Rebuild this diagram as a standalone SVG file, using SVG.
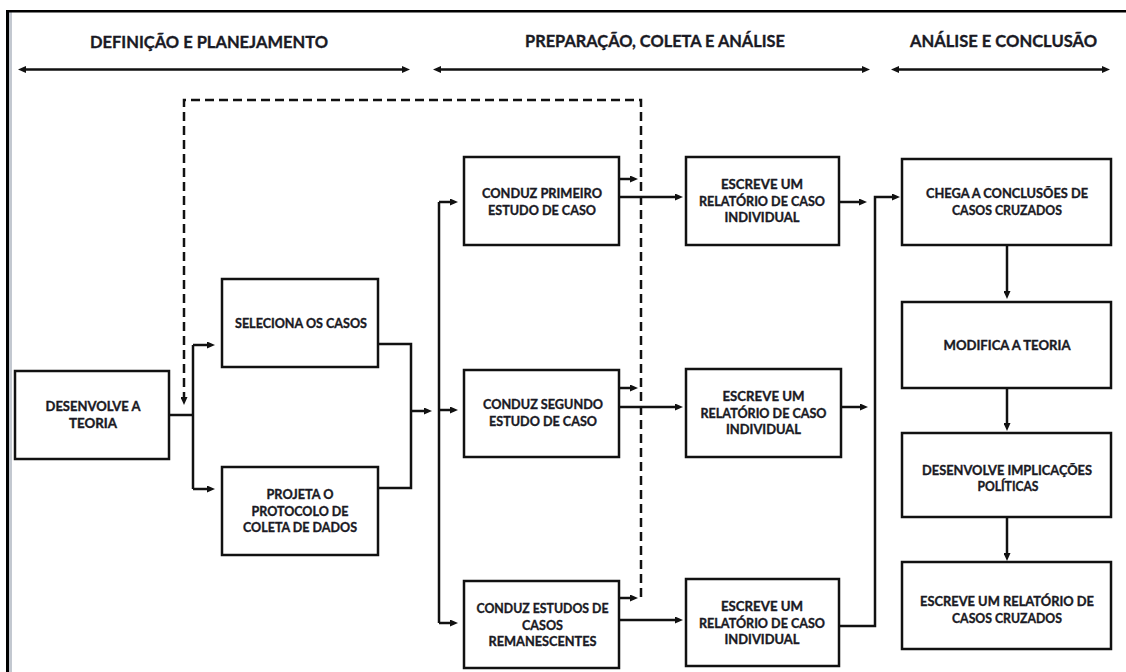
<svg xmlns="http://www.w3.org/2000/svg" width="1126" height="672" viewBox="0 0 1126 672">
<style>
.box{fill:#fff;stroke:#111;stroke-width:2.5}
.t{font-family:Lato,"Liberation Sans",Arial,sans-serif;font-weight:700;font-size:13px;fill:#1a1a24;stroke:#1a1a24;stroke-width:0.35;text-anchor:middle}
.h{font-family:Lato,"Liberation Sans",Arial,sans-serif;font-weight:700;font-size:17px;fill:#1a1a24;stroke:#1a1a24;stroke-width:0.35;text-anchor:middle}
.c{fill:none;stroke:#111;stroke-width:2.5}
.d{fill:none;stroke:#111;stroke-width:2.5;stroke-dasharray:9 5}
</style>
<defs>
<marker id="a" viewBox="0 0 8 7" markerUnits="userSpaceOnUse" markerWidth="8" markerHeight="7" refX="1" refY="3.5" orient="auto-start-reverse">
<path d="M0,0 L8,3.5 L0,7 z" fill="#111"/>
</marker>
</defs>
<rect width="1126" height="672" fill="#fff"/>
<g id="frame">
<rect x="9" y="12" width="3" height="660" fill="#c3c8d0"/>
<line x1="7.5" y1="10" x2="7.5" y2="672" stroke="#000" stroke-width="3"/>
<line x1="6" y1="11.2" x2="1126" y2="11.2" stroke="#000" stroke-width="2.5"/>
</g>
<g id="headers">
<text class="h" x="209" y="47.5" textLength="238" lengthAdjust="spacingAndGlyphs">DEFINIÇÃO E PLANEJAMENTO</text>
<text class="h" x="655" y="47" textLength="260" lengthAdjust="spacingAndGlyphs">PREPARAÇÃO, COLETA E ANÁLISE</text>
<text class="h" x="1003.5" y="47" textLength="187" lengthAdjust="spacingAndGlyphs">ANÁLISE E CONCLUSÃO</text>
<line class="c" x1="25" y1="69.5" x2="403" y2="69.5" marker-start="url(#a)" marker-end="url(#a)"/>
<line class="c" x1="440" y1="69.5" x2="863" y2="69.5" marker-start="url(#a)" marker-end="url(#a)"/>
<line class="c" x1="898" y1="69.5" x2="1103" y2="69.5" marker-start="url(#a)" marker-end="url(#a)"/>
</g>
<g id="connectors">
<path class="d" d="M641,597 V100 H184 V398" marker-end="url(#a)"/>
<path class="c" d="M169,415 H193"/>
<path class="c" d="M193,345 V489"/>
<line class="c" x1="193" y1="345" x2="208" y2="345" marker-end="url(#a)"/>
<line class="c" x1="193" y1="489" x2="208" y2="489" marker-end="url(#a)"/>
<path class="c" d="M378,344 H411 V488 H378"/>
<line class="c" x1="411" y1="411" x2="425" y2="411" marker-end="url(#a)"/>
<path class="c" d="M439,202 V623"/>
<line class="c" x1="439" y1="202" x2="451" y2="202" marker-end="url(#a)"/>
<line class="c" x1="439" y1="410" x2="451" y2="410" marker-end="url(#a)"/>
<line class="c" x1="439" y1="623" x2="451" y2="623" marker-end="url(#a)"/>
<line class="c" x1="619" y1="179" x2="631" y2="179" marker-end="url(#a)"/>
<line class="c" x1="619" y1="388" x2="631" y2="388" marker-end="url(#a)"/>
<line class="c" x1="619" y1="598" x2="631" y2="598" marker-end="url(#a)"/>
<line class="c" x1="619" y1="197" x2="676" y2="197" marker-end="url(#a)"/>
<line class="c" x1="619" y1="407" x2="676" y2="407" marker-end="url(#a)"/>
<line class="c" x1="619" y1="620" x2="676" y2="620" marker-end="url(#a)"/>
<line class="c" x1="839" y1="202" x2="860" y2="202" marker-end="url(#a)"/>
<line class="c" x1="841" y1="407" x2="861" y2="407" marker-end="url(#a)"/>
<path class="c" d="M839,626 H875 V197 H893" marker-end="url(#a)"/>
<line class="c" x1="1007" y1="245" x2="1007" y2="292" marker-end="url(#a)"/>
<line class="c" x1="1007" y1="388" x2="1007" y2="424" marker-end="url(#a)"/>
<line class="c" x1="1007" y1="517" x2="1007" y2="554" marker-end="url(#a)"/>
</g>
<g id="n1">
<rect class="box" x="15" y="371" width="154" height="88"/>
<text class="t" x="93" y="411" textLength="95" lengthAdjust="spacingAndGlyphs">DESENVOLVE A</text>
<text class="t" x="93" y="428" textLength="48" lengthAdjust="spacingAndGlyphs">TEORIA</text>
</g>
<g id="n2">
<rect class="box" x="222" y="279" width="156" height="88"/>
<text class="t" x="301" y="328" textLength="132" lengthAdjust="spacingAndGlyphs">SELECIONA OS CASOS</text>
</g>
<g id="n3">
<rect class="box" x="222" y="467" width="156" height="88"/>
<text class="t" x="300" y="499" textLength="67" lengthAdjust="spacingAndGlyphs">PROJETA O</text>
<text class="t" x="300" y="516" textLength="97" lengthAdjust="spacingAndGlyphs">PROTOCOLO DE</text>
<text class="t" x="300" y="532" textLength="114" lengthAdjust="spacingAndGlyphs">COLETA DE DADOS</text>
</g>
<g id="n4">
<rect class="box" x="464" y="157" width="155" height="88"/>
<text class="t" x="542" y="198" textLength="120" lengthAdjust="spacingAndGlyphs">CONDUZ PRIMEIRO</text>
<text class="t" x="542" y="215" textLength="108" lengthAdjust="spacingAndGlyphs">ESTUDO DE CASO</text>
</g>
<g id="n5">
<rect class="box" x="464" y="370" width="155" height="87"/>
<text class="t" x="543" y="409" textLength="120" lengthAdjust="spacingAndGlyphs">CONDUZ SEGUNDO</text>
<text class="t" x="543" y="426" textLength="108" lengthAdjust="spacingAndGlyphs">ESTUDO DE CASO</text>
</g>
<g id="n6">
<rect class="box" x="464" y="581" width="155" height="87"/>
<text class="t" x="542.5" y="613" textLength="132" lengthAdjust="spacingAndGlyphs">CONDUZ ESTUDOS DE</text>
<text class="t" x="542.5" y="630" textLength="41" lengthAdjust="spacingAndGlyphs">CASOS</text>
<text class="t" x="542.5" y="646" textLength="108" lengthAdjust="spacingAndGlyphs">REMANESCENTES</text>
</g>
<g id="n7">
<rect class="box" x="686" y="157" width="153" height="88"/>
<text class="t" x="762" y="189" textLength="82" lengthAdjust="spacingAndGlyphs">ESCREVE UM</text>
<text class="t" x="762" y="206" textLength="126" lengthAdjust="spacingAndGlyphs">RELATÓRIO DE CASO</text>
<text class="t" x="762" y="222" textLength="75" lengthAdjust="spacingAndGlyphs">INDIVIDUAL</text>
</g>
<g id="n8">
<rect class="box" x="686" y="369" width="155" height="88"/>
<text class="t" x="763.5" y="401" textLength="82" lengthAdjust="spacingAndGlyphs">ESCREVE UM</text>
<text class="t" x="763.5" y="418" textLength="126" lengthAdjust="spacingAndGlyphs">RELATÓRIO DE CASO</text>
<text class="t" x="763.5" y="434" textLength="75" lengthAdjust="spacingAndGlyphs">INDIVIDUAL</text>
</g>
<g id="n9">
<rect class="box" x="686" y="579" width="153" height="87"/>
<text class="t" x="762" y="611" textLength="82" lengthAdjust="spacingAndGlyphs">ESCREVE UM</text>
<text class="t" x="762" y="628" textLength="126" lengthAdjust="spacingAndGlyphs">RELATÓRIO DE CASO</text>
<text class="t" x="762" y="644" textLength="75" lengthAdjust="spacingAndGlyphs">INDIVIDUAL</text>
</g>
<g id="n10">
<rect class="box" x="902" y="159" width="209" height="86"/>
<text class="t" x="1007" y="198" textLength="162" lengthAdjust="spacingAndGlyphs">CHEGA A CONCLUSÕES DE</text>
<text class="t" x="1007" y="215" textLength="110" lengthAdjust="spacingAndGlyphs">CASOS CRUZADOS</text>
</g>
<g id="n11">
<rect class="box" x="902" y="302" width="209" height="86"/>
<text class="t" x="1007" y="349.5" textLength="127" lengthAdjust="spacingAndGlyphs">MODIFICA A TEORIA</text>
</g>
<g id="n12">
<rect class="box" x="902" y="433" width="209" height="84"/>
<text class="t" x="1007" y="474.5" textLength="170" lengthAdjust="spacingAndGlyphs">DESENVOLVE IMPLICAÇÕES</text>
<text class="t" x="1008" y="491" textLength="61" lengthAdjust="spacingAndGlyphs">POLÍTICAS</text>
</g>
<g id="n13">
<rect class="box" x="902" y="562" width="209" height="87"/>
<text class="t" x="1007" y="605.5" textLength="174" lengthAdjust="spacingAndGlyphs">ESCREVE UM RELATÓRIO DE</text>
<text class="t" x="1007" y="623" textLength="110" lengthAdjust="spacingAndGlyphs">CASOS CRUZADOS</text>
</g>
</svg>
